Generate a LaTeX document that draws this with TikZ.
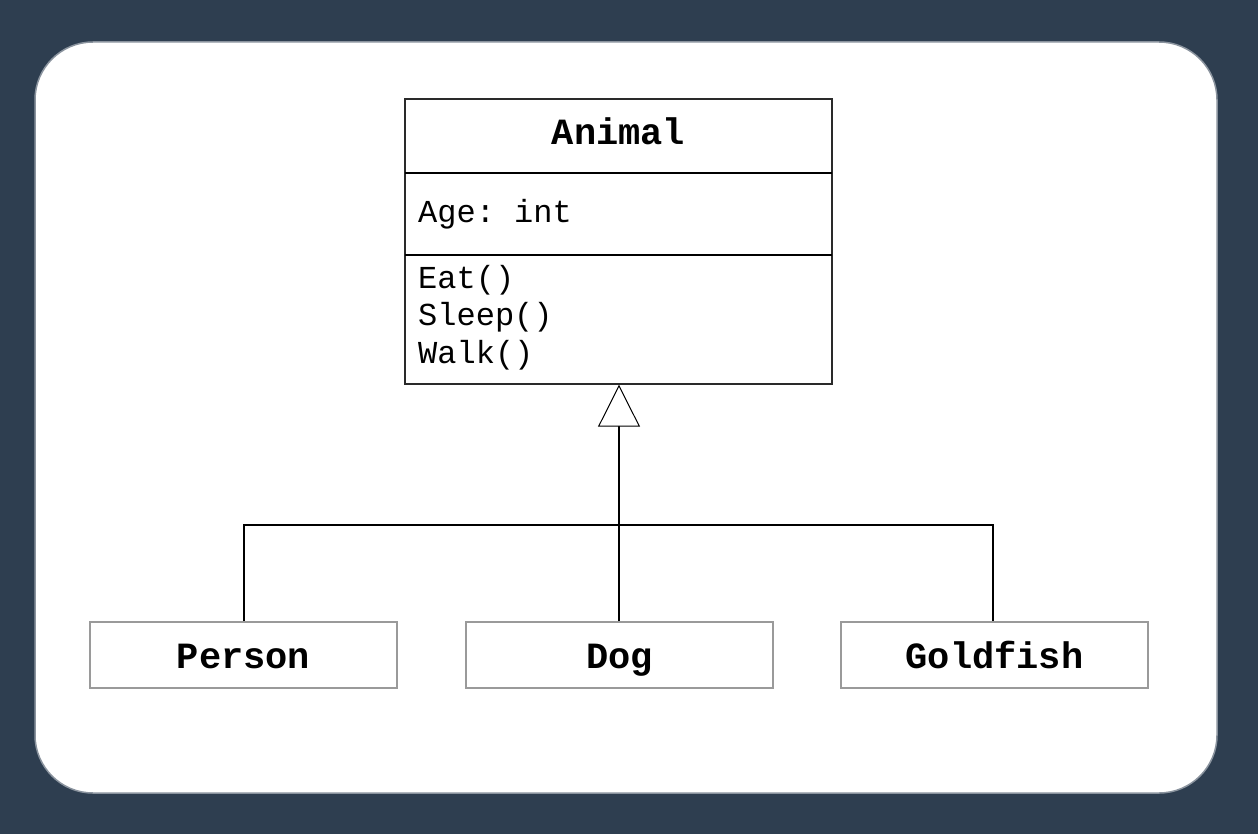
\documentclass[tikz,border=0pt]{standalone}
\usepackage{fontspec}
\setmonofont{Liberation Mono}
\usetikzlibrary{arrows.meta}
\definecolor{navy}{HTML}{2E3E50}
\definecolor{cardedge}{HTML}{8A939E}
\definecolor{boxedge}{HTML}{9A9A9A}
\definecolor{classedge}{HTML}{2A2A2A}
\tikzset{
  classbox/.style={draw=classedge, line width=1.4pt, fill=white, minimum width=427pt, minimum height=285pt, inner sep=0pt},
  childbox/.style={draw=boxedge, line width=2pt, fill=white, minimum width=307pt, minimum height=66pt, inner sep=0pt},
  titletext/.style={font=\ttfamily\bfseries\fontsize{37}{40}\selectfont, anchor=base, inner sep=0pt},
  membertext/.style={font=\ttfamily\fontsize{32}{37}\selectfont, anchor=base west, inner sep=0pt},
  divider/.style={draw=black, line width=1.8pt},
  link/.style={draw=black, line width=2pt},
}
\begin{document}
\begin{tikzpicture}[x=1pt, y=-1pt]
  % page background and card
  \fill[navy] (0,0) rectangle (1258,834);
  \useasboundingbox (0,0) rectangle (1258,834);
  \draw[cardedge, line width=1.5pt, fill=white, rounded corners=58pt] (35,42) rectangle (1217,793);

  % Animal class
  \node[classbox] (animal) at (618.5,241.5) {};
  \draw[divider] (405,173) -- (832,173);
  \draw[divider] (405,255) -- (832,255);
  \node[titletext] (animaltitle) at (618.5,145) {Animal};
  \node[membertext] (age) at (418,223) {Age: int};
  \node[membertext] (eat) at (418,289) {Eat()};
  \node[membertext] (sleep) at (418,326) {Sleep()};
  \node[membertext] (walk) at (418,363) {Walk()};

  % subclasses
  \node[childbox] (person) at (243.5,655) {};
  \node[childbox] (dog) at (619.5,655) {};
  \node[childbox] (goldfish) at (994.5,655) {};
  \node[titletext] (personlabel) at (243.5,668) {Person};
  \node[titletext] (doglabel) at (619.5,668) {Dog};
  \node[titletext] (goldfishlabel) at (994.5,668) {Goldfish};

  % generalisation connectors
  \coordinate (bus) at (619,525);
  \draw[link] (person.north -| 244,0) |- (bus) -| (goldfish.north -| 993,0);
  \draw[link, -{Triangle[open, length=42pt, width=42pt, fill=white, line width=1pt]}]
    (dog.north -| bus) -- (animal.south -| bus);
\end{tikzpicture}
\end{document}
